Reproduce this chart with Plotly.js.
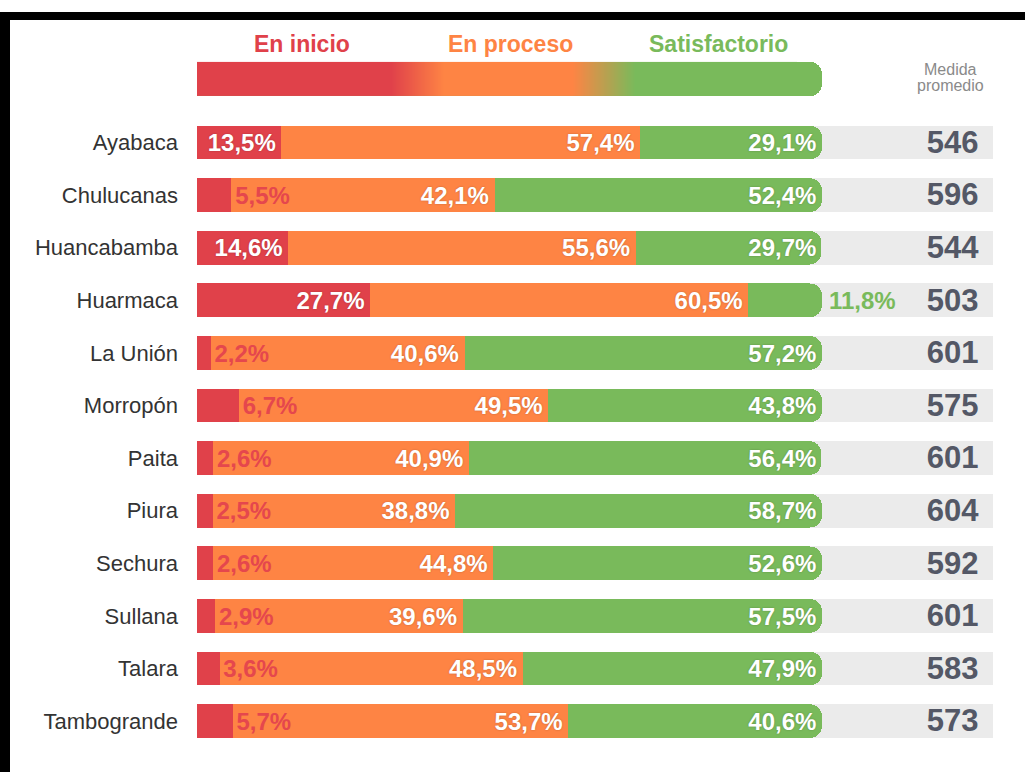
<!DOCTYPE html>
<html>
<head>
<meta charset="utf-8">
<script src="https://cdn.plot.ly/plotly-3.0.1.min.js"></script>
<style>html,body{margin:0;padding:0;background:#fff;}#chart{width:1025px;height:772px;}</style>
</head>
<body>
<div id="chart"></div>
<script>
// ---- data ----
const provinces = ["Ayabaca","Chulucanas","Huancabamba","Huarmaca","La Unión","Morropón","Paita","Piura","Sechura","Sullana","Talara","Tambogrande"];
const enInicio = [13.5, 5.5, 14.6, 27.7, 2.2, 6.7, 2.6, 2.5, 2.6, 2.9, 3.6, 5.7];
const enProceso = [57.4, 42.1, 55.6, 60.5, 40.6, 49.5, 40.9, 38.8, 44.8, 39.6, 48.5, 53.7];
const satisfactorio = [29.1, 52.4, 29.7, 11.8, 57.2, 43.8, 56.4, 58.7, 52.6, 57.5, 47.9, 40.6];
const medida = [546, 596, 544, 503, 601, 575, 601, 604, 592, 601, 583, 573];
const levelNames = ["En inicio", "En proceso", "Satisfactorio"];
const medidaTitle = ["Medida", "promedio"];
// legend gradient stops (position in %)
const gradStops = [0, 31, 39.4, 60, 70, 100];

// ---- styles ----
const RED = "#E0414A", ORANGE = "#FE8444", GREEN = "#79BA5B", GREY = "#EBEBEB", NUM = "#545866";
const FONT = "Liberation Sans, Arial, sans-serif";
const BARW = 0.64;
const rows = provinces.map((_, i) => i);
const fmt = v => v.toFixed(1).replace(".", ",") + "%";
const PAD = 0.9;
const TDY = 0.05; // small vertical nudge of text (rows)
const SHADOW = "0px 0px 2px rgba(0,0,0,0.25)";

const legendY = -1.207;
const totalEnd = 100;
const bgEnd = 127.36;
const medidaX = 120.9;

const traces = [];
// grey background bands (base subplot)
traces.push({type:"bar", orientation:"h", y:rows, x:rows.map(()=>bgEnd), width:BARW,
  marker:{color:GREY}, hoverinfo:"skip", xaxis:"x", yaxis:"y", showlegend:false});

// stacked bars (x2)
const stackCols = [[enInicio, RED],[enProceso, ORANGE],[satisfactorio, GREEN]];
stackCols.forEach(([vals,col]) => {
  traces.push({type:"bar", orientation:"h", y:rows, x:vals, width:BARW,
    marker:{color:col, cornerradius:12, line:{width:0}}, hoverinfo:"skip",
    xaxis:"x2", yaxis:"y", showlegend:false});
});
// legend bar base (rounded green end)
traces.push({type:"bar", orientation:"h", y:[legendY], x:[totalEnd], width:0.65,
  marker:{color:GREEN, cornerradius:12}, hoverinfo:"skip", xaxis:"x2", yaxis:"y", showlegend:false});

// legend gradient (x3) - heatmap whose z equals x position
const edges = [];
for (let v = 0; v <= 96; v += 2) edges.push(v);
const centers = edges.slice(0,-1).map(v => v + 1);
traces.push({type:"heatmap", x:edges, y:[legendY-0.325, legendY+0.325], z:[centers],
  zmin:0, zmax:100, zsmooth:"best", showscale:false, hoverinfo:"skip",
  colorscale:[[gradStops[0]/100,RED],[gradStops[1]/100,RED],[gradStops[2]/100,ORANGE],[gradStops[3]/100,ORANGE],[gradStops[4]/100,GREEN],[gradStops[5]/100,GREEN]],
  xaxis:"x3", yaxis:"y"});

// labels
function addText(xs, ys, texts, pos, color) {
  if (!xs.length) return;
  traces.push({type:"scatter", mode:"text", x:xs, y:ys.map(v=>v+TDY), text:texts, textposition:pos,
    textfont:{family:FONT, size:24, color:color, weight:"bold", shadow: color==="#ffffff"?SHADOW:"none"},
    hoverinfo:"skip", cliponaxis:false, xaxis:"x3", yaxis:"y", showlegend:false});
}
// red labels
const rIn = rows.filter(i => enInicio[i] >= 10), rOut = rows.filter(i => enInicio[i] < 10);
addText(rIn.map(i=>enInicio[i]-PAD), rIn, rIn.map(i=>fmt(enInicio[i])), "middle left", "#ffffff");
addText(rOut.map(i=>enInicio[i]+0.6), rOut, rOut.map(i=>fmt(enInicio[i])), "middle right", "#E5474D");
// orange labels
addText(rows.map(i=>enInicio[i]+enProceso[i]-PAD), rows, rows.map(i=>fmt(enProceso[i])), "middle left", "#ffffff");
// green labels
const gIn = rows.filter(i => satisfactorio[i] >= 15), gOut = rows.filter(i => satisfactorio[i] < 15);
addText(gIn.map(()=>totalEnd-PAD), gIn, gIn.map(i=>fmt(satisfactorio[i])), "middle left", "#ffffff");
addText(gOut.map(()=>totalEnd+1.1), gOut, gOut.map(i=>fmt(satisfactorio[i])), "middle right", GREEN);
// medida values
traces.push({type:"scatter", mode:"text", x:rows.map(()=>medidaX), y:rows.map(v=>v+TDY), text:medida.map(String),
  textposition:"middle center", textfont:{family:FONT, size:31, color:NUM, weight:"bold"},
  hoverinfo:"skip", cliponaxis:false, xaxis:"x3", yaxis:"y", showlegend:false});

const L = 183, W = 1025, H = 772;
const pxPerUnit = 6.25;
const xmin = -(197 - L)/pxPerUnit;
const xmax = xmin + (W - L)/pxPerUnit;
const pxPerRow = 52.6;
const ytop = -142.5/pxPerRow;
const ybot = ytop + H/pxPerRow;
const xr = [xmin, xmax];

const axHidden = {range:xr, visible:false, fixedrange:true, overlaying:"x", anchor:"y"};
const legendLabelX = [16.8, 50.1, 83.4];
const legendCols = [RED, ORANGE, GREEN];
const annotations = levelNames.map((t,k)=>({x:legendLabelX[k], y:-1.873, xref:"x", yref:"y", text:t, showarrow:false,
  font:{family:FONT, size:23, color:legendCols[k], weight:"bold"}, xanchor:"center", yanchor:"middle"}));
annotations.push({x:medidaX-0.3, y:-1.39, xref:"x", yref:"y", text:medidaTitle[0], showarrow:false,
  font:{family:FONT, size:16, color:"#8a8a8a"}, xanchor:"center", yanchor:"middle"});
annotations.push({x:medidaX-0.3, y:-1.09, xref:"x", yref:"y", text:medidaTitle[1], showarrow:false,
  font:{family:FONT, size:16, color:"#8a8a8a"}, xanchor:"center", yanchor:"middle"});

const px2paperX = p => (p - L)/(W - L);
const px2paperY = p => 1 - p/H;
const shapes = [
  {type:"rect", xref:"paper", yref:"paper", x0:px2paperX(0), x1:1.0, y0:px2paperY(20), y1:px2paperY(12), fillcolor:"#000", line:{width:0}},
  {type:"rect", xref:"paper", yref:"paper", x0:px2paperX(0), x1:px2paperX(10), y0:0, y1:px2paperY(12), fillcolor:"#000", line:{width:0}}
];

const layout = {
  width:W, height:H, margin:{l:L, r:0, t:0, b:0, pad:0},
  paper_bgcolor:"#fff", plot_bgcolor:"#fff",
  barmode:"stack", showlegend:false,
  xaxis:{range:xr, visible:false, fixedrange:true},
  xaxis2:axHidden, xaxis3:Object.assign({}, axHidden),
  yaxis:{range:[ybot, ytop], tickvals:rows, ticktext:provinces, showgrid:false, zeroline:false, showline:false,
    ticks:"", ticklabelstandoff:4, tickfont:{family:FONT, size:22, color:"#333"}, fixedrange:true},
  annotations, shapes
};
Plotly.newPlot("chart", traces, layout, {displayModeBar:false, staticPlot:true});
</script>
</body>
</html>
